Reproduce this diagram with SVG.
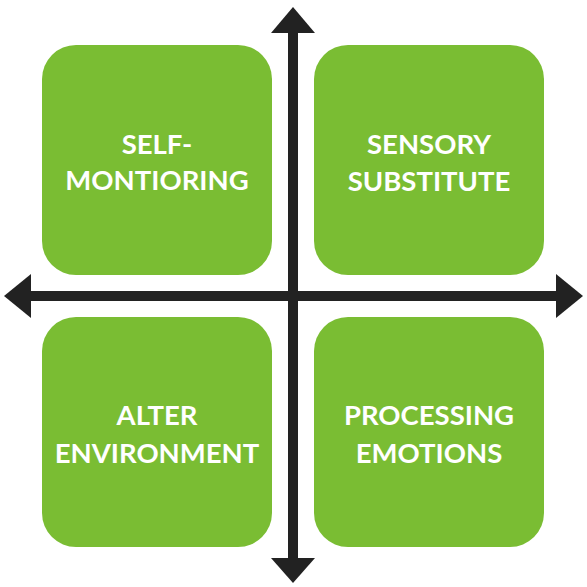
<svg xmlns="http://www.w3.org/2000/svg" width="587" height="587" viewBox="0 0 587 587">
<style>
.box{fill:#7abd33}
.lbl{fill:#fff;font-family:Lato,"Open Sans","Liberation Sans",sans-serif;font-weight:bold;font-size:27.5px;text-anchor:middle}
.ax{stroke:#222;stroke-width:10;fill:none}
.hd{fill:#222}
</style>
<rect width="587" height="587" fill="#fff"/>
<g id="self-monitoring">
<rect class="box" x="42" y="45" width="230" height="230" rx="34"/>
<text class="lbl" x="157" y="154">SELF-</text>
<text class="lbl" x="157" y="190">MONTIORING</text>
</g>
<g id="sensory-substitute">
<rect class="box" x="314" y="45" width="230" height="230" rx="34"/>
<text class="lbl" x="429" y="154">SENSORY</text>
<text class="lbl" x="429" y="191">SUBSTITUTE</text>
</g>
<g id="alter-environment">
<rect class="box" x="42" y="317" width="230" height="230" rx="34"/>
<text class="lbl" x="157" y="425">ALTER</text>
<text class="lbl" x="157" y="463">ENVIRONMENT</text>
</g>
<g id="processing-emotions">
<rect class="box" x="314" y="317" width="230" height="230" rx="34"/>
<text class="lbl" x="429" y="425">PROCESSING</text>
<text class="lbl" x="429" y="463">EMOTIONS</text>
</g>
<g id="connectors">
<line class="ax" x1="293" y1="30" x2="293" y2="561"/>
<line class="ax" x1="28" y1="296" x2="559" y2="296"/>
<polygon class="hd" points="293,7 315,33 271,33"/>
<polygon class="hd" points="293,583 315,558 271,558"/>
<polygon class="hd" points="4,296 31,274 31,318"/>
<polygon class="hd" points="583,296 556,274 556,318"/>
</g>
</svg>
